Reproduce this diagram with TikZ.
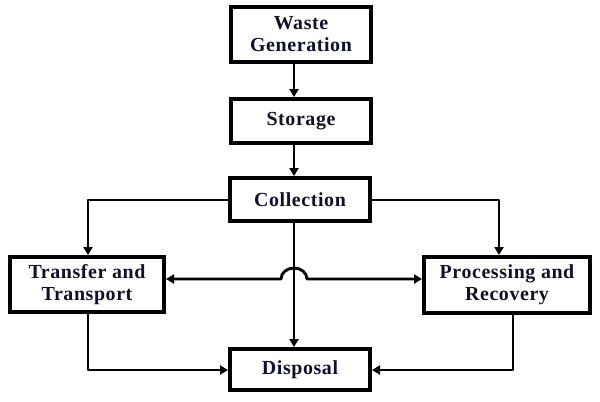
\documentclass[tikz,border=0pt]{standalone}
\usepackage{fontspec}
\setmainfont{Liberation Serif}[LetterSpace=3]
\usetikzlibrary{arrows.meta}
\definecolor{txt}{RGB}{16,16,40}
\begin{document}
\begin{tikzpicture}[x=1bp,y=-1bp,
  box/.style={draw=black,line width=4bp,fill=white,inner sep=0pt,align=center,
    font=\fontsize{20}{22}\selectfont\bfseries,text=txt},
  conn/.style={draw=black,line width=2.9bp,line join=round},
  arr/.style={conn,-{Triangle[length=8bp,width=9bp]}}]
\useasboundingbox (0,0) rectangle (600,401);
\node[box,minimum width=140bp,minimum height=55bp] (waste) at (301,34.5) {Waste\\Generation};
\node[box,minimum width=140bp,minimum height=44bp] (storage) at (301,121) {Storage};
\node[box,minimum width=140bp,minimum height=43bp] (collection) at (300,199.5) {Collection};
\node[box,minimum width=154bp,minimum height=55bp] (transfer) at (87,284.5) {Transfer and\\Transport};
\node[box,minimum width=166bp,minimum height=56bp] (processing) at (507,285) {Processing and\\Recovery};
\node[box,minimum width=140bp,minimum height=41bp] (disposal) at (300,369.5) {Disposal};
\coordinate (hopL) at (281,279);
\coordinate (hopR) at (307,279);
% vertical chain
\draw[arr] (waste.south -| 294,0) -- (storage.north -| 294,0);
\draw[arr] (storage.south -| 294,0) -- (collection.north -| 294,0);
\draw[arr] (collection.south -| 294,0) -- (disposal.north -| 294,0);
% branches from collection
\draw[arr] (collection.west |- 0,200) -| (transfer.north -| 88,0);
\draw[arr] (collection.east |- 0,200) -| (processing.north -| 499,0);
% bottom returns
\draw[arr] (transfer.south -| 88,0) |- (disposal.west |- 0,370);
\draw[arr] (processing.south -| 513,0) |- (disposal.east |- 0,370);
% crossing with hop
\draw[conn,{Triangle[length=8bp,width=9bp]}-{Triangle[length=8bp,width=9bp]}]
  (transfer.east |- hopL) -- (hopL) arc[start angle=180,end angle=0,x radius=13bp,y radius=11bp] -- (processing.west |- hopR);
\end{tikzpicture}
\end{document}
